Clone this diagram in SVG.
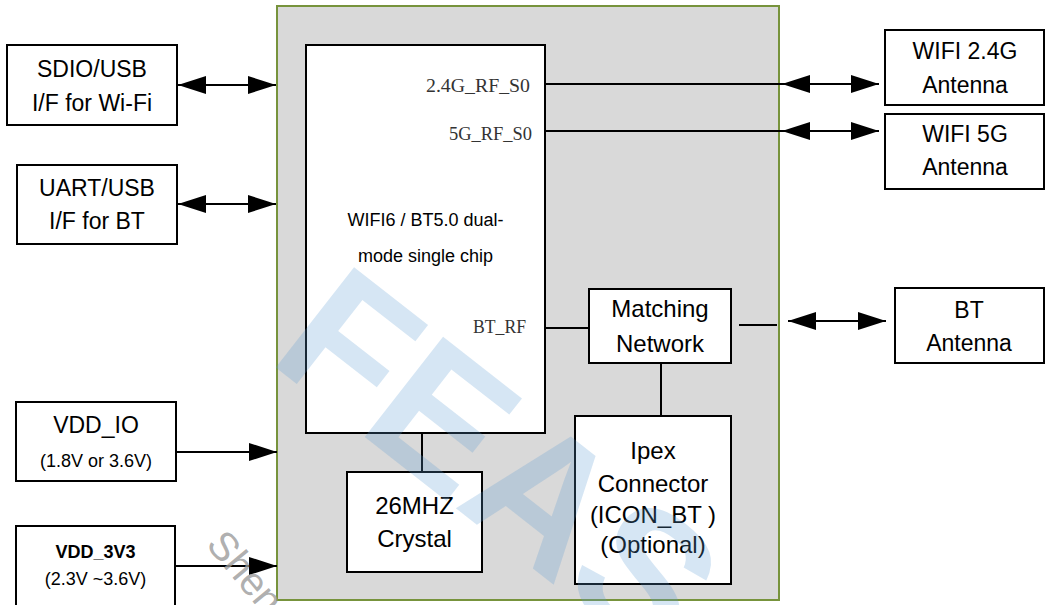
<svg xmlns="http://www.w3.org/2000/svg" width="1046" height="605" viewBox="0 0 1046 605">
<defs>
<style>
.box{fill:#fff;stroke:#000;stroke-width:2}
.t{font-family:"Liberation Sans",Arial,sans-serif;fill:#000;text-anchor:middle}
.s{font-family:"Liberation Serif","Times New Roman",serif;fill:#333;font-size:19px}
.ln{stroke:#000;stroke-width:2;fill:none}
.wm{font-family:"Liberation Sans",Arial,sans-serif;font-weight:bold;fill:#5b9bd5;fill-opacity:0.25}
</style>
<marker id="ah" viewBox="0 0 28 18" refX="28" refY="9" markerWidth="28" markerHeight="18" markerUnits="userSpaceOnUse" orient="auto-start-reverse">
<path d="M0,0 L28,9 L0,18 z" fill="#000"/>
</marker>
</defs>
<rect width="1046" height="605" fill="#fff"/>

<g id="module">
<rect x="277" y="6" width="502" height="594" fill="#d9d9d9" stroke="#77933c" stroke-width="2"/>
</g>

<g id="chip">
<rect class="box" x="306" y="45" width="239" height="388"/>
<text class="s" x="426" y="92" textLength="104" lengthAdjust="spacingAndGlyphs">2.4G_RF_S0</text>
<text class="s" x="449" y="140" textLength="83" lengthAdjust="spacingAndGlyphs">5G_RF_S0</text>
<text class="s" x="473" y="333" textLength="53" lengthAdjust="spacingAndGlyphs">BT_RF</text>
<text class="t" x="425.5" y="226" font-size="18">WIFI6 / BT5.0 dual-</text>
<text class="t" x="425.5" y="262" font-size="18">mode single chip</text>
</g>

<g id="sdio">
<rect class="box" x="7" y="45" width="170" height="80"/>
<text class="t" x="92" y="77" font-size="23">SDIO/USB</text>
<text class="t" x="92" y="111" font-size="23">I/F for Wi-Fi</text>
</g>

<g id="uart">
<rect class="box" x="17" y="165" width="160" height="79"/>
<text class="t" x="97" y="196" font-size="23">UART/USB</text>
<text class="t" x="97" y="229" font-size="23">I/F for BT</text>
</g>

<g id="vddio">
<rect class="box" x="16" y="402" width="160" height="79"/>
<text class="t" x="96" y="433" font-size="23">VDD_IO</text>
<text class="t" x="96" y="467" font-size="18">(1.8V or 3.6V)</text>
</g>

<g id="vdd3v3">
<rect class="box" x="16" y="526" width="159" height="85"/>
<text class="t" x="95.5" y="558" font-size="18" font-weight="bold">VDD_3V3</text>
<text class="t" x="95.5" y="585" font-size="18">(2.3V ~3.6V)</text>
</g>

<g id="wifi24">
<rect class="box" x="885" y="30" width="159" height="75"/>
<text class="t" x="965" y="59" font-size="23">WIFI 2.4G</text>
<text class="t" x="965" y="93" font-size="23">Antenna</text>
</g>

<g id="wifi5">
<rect class="box" x="885" y="114" width="159" height="75"/>
<text class="t" x="965" y="142" font-size="23">WIFI 5G</text>
<text class="t" x="965" y="175" font-size="23">Antenna</text>
</g>

<g id="btant">
<rect class="box" x="895" y="288" width="149" height="75"/>
<text class="t" x="969" y="318" font-size="23">BT</text>
<text class="t" x="969" y="351" font-size="23">Antenna</text>
</g>

<g id="matching">
<rect class="box" x="589" y="289" width="142" height="74"/>
<text class="t" x="660" y="317" font-size="24">Matching</text>
<text class="t" x="660" y="352" font-size="24">Network</text>
</g>

<g id="crystal">
<rect class="box" x="347" y="472" width="135" height="100"/>
<text class="t" x="414.5" y="514" font-size="24">26MHZ</text>
<text class="t" x="414.5" y="547" font-size="24">Crystal</text>
</g>

<g id="ipex">
<rect class="box" x="575" y="416" width="156" height="168"/>
<text class="t" x="653" y="459" font-size="24">Ipex</text>
<text class="t" x="653" y="492" font-size="24">Connector</text>
<text class="t" x="653" y="523" font-size="24">(ICON_BT )</text>
<text class="t" x="653" y="553" font-size="24">(Optional)</text>
</g>

<g id="connectors">
<line class="ln" x1="178" y1="85" x2="276" y2="85" marker-start="url(#ah)" marker-end="url(#ah)"/>
<line class="ln" x1="178" y1="204" x2="276" y2="204" marker-start="url(#ah)" marker-end="url(#ah)"/>
<line class="ln" x1="176" y1="452" x2="277" y2="452" marker-end="url(#ah)"/>
<line class="ln" x1="175" y1="566" x2="277" y2="566" marker-end="url(#ah)"/>
<line class="ln" x1="545" y1="84" x2="782" y2="84"/>
<line class="ln" x1="782" y1="84" x2="879" y2="84" marker-start="url(#ah)" marker-end="url(#ah)"/>
<line class="ln" x1="545" y1="131" x2="782" y2="131"/>
<line class="ln" x1="782" y1="131" x2="879" y2="131" marker-start="url(#ah)" marker-end="url(#ah)"/>
<line class="ln" x1="545" y1="328" x2="589" y2="328"/>
<line class="ln" x1="739" y1="325" x2="777" y2="325"/>
<line class="ln" x1="788" y1="321" x2="886" y2="321" marker-start="url(#ah)" marker-end="url(#ah)"/>
<line class="ln" x1="422" y1="433" x2="422" y2="472"/>
<line class="ln" x1="661" y1="363" x2="661" y2="416"/>
</g>

<g id="watermark">
<text class="wm" x="266" y="360" font-size="185" transform="rotate(38 266 360)">FEAS</text>
<text x="205" y="545" font-family="'Liberation Sans',Arial,sans-serif" font-size="40" fill="#9a9a9a" fill-opacity="0.8" transform="rotate(50 205 545)">Shen</text>
</g>
</svg>
